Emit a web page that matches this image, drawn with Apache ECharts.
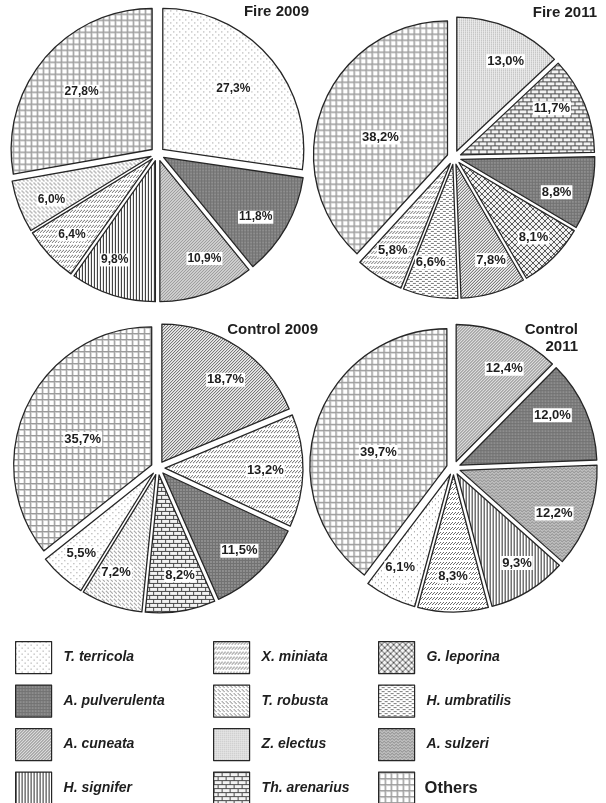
<!DOCTYPE html>
<html>
<head>
<meta charset="utf-8">
<script src="https://cdn.jsdelivr.net/npm/echarts@6/dist/echarts.min.js"></script>
<style>
  html, body { margin: 0; padding: 0; background: #fff; }
  #chart { width: 606px; height: 803px; }
</style>
</head>
<body>
<div id="chart"></div>
<script>
// ---- data -------------------------------------------------------------
const fire2009Names = ['T. terricola', 'A. pulverulenta', 'A. cuneata', 'H. signifer', 'X. miniata', 'T. robusta', 'Others'];
const fire2009Values = [27.3, 11.8, 10.9, 9.8, 6.4, 6.0, 27.8];

const fire2011Names = ['Z. electus', 'Th. arenarius', 'A. pulverulenta', 'G. leporina', 'A. cuneata', 'H. umbratilis', 'X. miniata', 'Others'];
const fire2011Values = [13.0, 11.7, 8.8, 8.1, 7.8, 6.6, 5.8, 38.2];

const control2009Names = ['A. cuneata', 'X. miniata', 'A. pulverulenta', 'Th. arenarius', 'T. robusta', 'T. terricola', 'Others'];
const control2009Values = [18.7, 13.2, 11.5, 8.2, 7.2, 5.5, 35.7];

const control2011Names = ['A. cuneata', 'A. pulverulenta', 'A. sulzeri', 'H. signifer', 'X. miniata', 'T. terricola', 'Others'];
const control2011Values = [12.4, 12.0, 12.2, 9.3, 8.3, 6.1, 39.7];

const legendColumn1 = ['T. terricola', 'A. pulverulenta', 'A. cuneata', 'H. signifer'];
const legendColumn2 = ['X. miniata', 'T. robusta', 'Z. electus', 'Th. arenarius'];
const legendColumn3 = ['G. leporina', 'H. umbratilis', 'A. sulzeri', 'Others'];

// ---- hatch patterns ---------------------------------------------------
function tile(w, h, bg, draw) {
  const c = document.createElement('canvas');
  c.width = w; c.height = h;
  const g = c.getContext('2d');
  g.fillStyle = bg;
  g.fillRect(0, 0, w, h);
  draw(g);
  return { image: c, repeat: 'repeat' };
}
function px(g, color, pts) {
  g.fillStyle = color;
  pts.forEach(p => g.fillRect(p[0], p[1], p[2] || 1, p[3] || 1));
}

const patterns = {
  'T. terricola': tile(6, 6, '#ffffff', g => px(g, '#8a8a8a', [[0, 0], [3, 3]])),
  'A. pulverulenta': tile(3, 3, '#8e8e8e', g => px(g, '#727272', [[0, 0, 3, 1], [0, 0, 1, 3]])),
  'A. cuneata': tile(3, 3, '#f2f2f2', g => px(g, '#555555', [[2, 0], [1, 1], [0, 2]])),
  'H. signifer': tile(3, 1, '#ffffff', g => px(g, '#2a2a2a', [[0, 0]])),
  'X. miniata': tile(3, 5, '#ffffff', g => px(g, '#6a6a6a', [[2, 0], [1, 1], [0, 2]])),
  'T. robusta': tile(4, 4, '#ffffff', g => px(g, '#7a7a7a', [[0, 0], [2, 2], [1, 1]])),
  'Z. electus': tile(2, 2, '#f0f0f0', g => px(g, '#a0a0a0', [[0, 0]])),
  'Th. arenarius': tile(8, 8, '#f2f2f2', g => px(g, '#4a4a4a', [[0, 0, 8, 1], [0, 4, 8, 1], [0, 1, 1, 3], [4, 5, 1, 3]])),
  'G. leporina': tile(6, 6, '#f4f4f4', g => px(g, '#555555', [[0, 0], [1, 1], [2, 2], [3, 3], [4, 4], [5, 5], [5, 0], [4, 1], [3, 2], [2, 3], [1, 4], [0, 5]])),
  'H. umbratilis': tile(6, 4, '#ffffff', g => px(g, '#7a7a7a', [[0, 0, 3, 1], [3, 2, 3, 1]])),
  'A. sulzeri': tile(4, 3, '#d0d0d0', g => px(g, '#6a6a6a', [[0, 1], [1, 0], [2, 1], [3, 2]])),
  'Others': tile(6, 6, '#ffffff', g => { px(g, '#cfcfcf', [[1, 0, 1, 6], [0, 1, 6, 1]]); px(g, '#9a9a9a', [[0, 0, 6, 1], [0, 0, 1, 6]]); })
};

// ---- series -----------------------------------------------------------
const FONT = '"Liberation Sans", Arial, sans-serif';
const OUTLINE = '#262626';
const EXPLODE = 7;

function pctLabel(v) {
  return v.toFixed(1).replace('.', ',') + '%';
}

function pieData(names, values, styled) {
  return names.map((n, i) => ({
    name: n,
    value: values[i],
    selected: true,
    itemStyle: styled ? { color: patterns[n] } : { color: 'rgba(0,0,0,0)' }
  }));
}

// filled, outlined wedges
function pieSeries(names, values, center, r) {
  return {
    type: 'pie',
    center: center,
    radius: [0, r],
    startAngle: 90,
    clockwise: true,
    selectedMode: 'multiple',
    selectedOffset: EXPLODE,
    avoidLabelOverlap: false,
    animation: false,
    silent: true,
    label: { show: false },
    labelLine: { show: false },
    itemStyle: { borderColor: OUTLINE, borderWidth: 1.3 },
    select: { itemStyle: { borderColor: OUTLINE, borderWidth: 1.3 } },
    emphasis: { disabled: true },
    data: pieData(names, values, true)
  };
}

// transparent outer ring that carries the percentage labels
function labelSeries(names, values, center, r, fontSize) {
  const lbl = {
    show: true,
    position: 'inside',
    formatter: p => pctLabel(p.value),
    color: '#1e1e1e',
    fontFamily: FONT,
    fontWeight: 'bold',
    fontSize: fontSize,
    backgroundColor: '#ffffff',
    padding: [1, 1, 0, 1]
  };
  return {
    type: 'pie',
    center: center,
    radius: [r * 0.5, r],
    startAngle: 90,
    clockwise: true,
    selectedMode: 'multiple',
    selectedOffset: EXPLODE,
    avoidLabelOverlap: false,
    animation: false,
    silent: true,
    label: lbl,
    labelLine: { show: false },
    itemStyle: { borderWidth: 0 },
    select: { itemStyle: { borderWidth: 0 }, label: lbl },
    emphasis: { disabled: true },
    data: pieData(names, values, false)
  };
}

const pies = [
  [fire2009Names, fire2009Values, [157.5, 154], 141, 12],
  [fire2011Names, fire2011Values, [454, 157.5], 134, 13],
  [control2009Names, control2009Values, [158, 468], 138, 13],
  [control2011Names, control2011Values, [453.5, 468], 137, 13]
];

const series = pies.map(p => pieSeries(p[0], p[1], p[2], p[3]))
  .concat(pies.map(p => labelSeries(p[0], p[1], p[2], p[3], p[4])));

// ---- titles -----------------------------------------------------------
const titleText = { fontFamily: FONT, fontWeight: 'bold', fontSize: 15, color: '#1e1e1e', lineHeight: 17 };
const titles = [
  { text: 'Fire 2009', right: 297, top: 3 },
  { text: 'Fire 2011', right: 9, top: 4 },
  { text: 'Control 2009', right: 288, top: 321 },
  { text: 'Control\n2011', left: 578, top: 321, textAlign: 'right' }
].map(t => Object.assign({ padding: 0, textStyle: titleText }, t));

// ---- legend -----------------------------------------------------------
function legendCol(names, left) {
  return {
    orient: 'vertical',
    left: left,
    top: 641,
    width: 190,
    height: 200,
    itemWidth: 36,
    itemHeight: 32,
    itemGap: 10.3,
    padding: 0,
    selectedMode: false,
    icon: 'rect',
    itemStyle: { borderColor: OUTLINE, borderWidth: 1.2 },
    data: names,
    formatter: n => (n === 'Others' ? '{o|' + n + '}' : '{s|' + n + '}'),
    textStyle: {
      fontFamily: FONT,
      color: '#1e1e1e',
      rich: {
        s: { fontFamily: FONT, fontWeight: 'bold', fontStyle: 'italic', fontSize: 14, color: '#1e1e1e', padding: [0, 0, 0, 7] },
        o: { fontFamily: FONT, fontWeight: 'bold', fontSize: 16.5, color: '#1e1e1e', padding: [0, 0, 0, 5] }
      }
    }
  };
}

const chart = echarts.init(document.getElementById('chart'), null, { renderer: 'canvas' });
chart.setOption({
  backgroundColor: '#ffffff',
  animation: false,
  title: titles,
  legend: [legendCol(legendColumn1, 15), legendCol(legendColumn2, 213), legendCol(legendColumn3, 378)],
  series: series
});
</script>
</body>
</html>
